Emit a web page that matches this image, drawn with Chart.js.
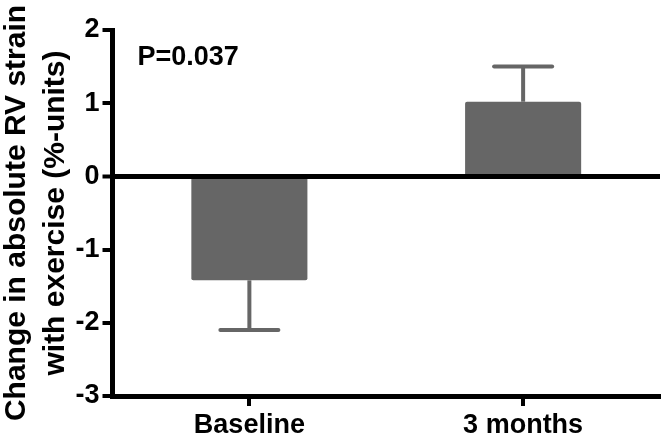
<!DOCTYPE html>
<html>
<head>
<meta charset="utf-8">
<script src="https://cdn.jsdelivr.net/npm/chart.js@4"></script>
<style>
  html, body { margin: 0; padding: 0; background: #fff; }
  #wrap { width: 666px; height: 440px; }
</style>
</head>
<body>
<div id="wrap"><canvas id="strainChart" width="666" height="440"></canvas></div>
<script>
const categories = ['Baseline', '3 months'];
const meanChange = [-1.42, 1.02];
const errorSize = [0.68, 0.48];
const yMin = -3;
const yMax = 2;
const pLabel = 'P=0.037';

const barGrey = '#666666';
const fontFamily = '"Liberation Sans", Arial, Helvetica, sans-serif';

// one-sided error bars, drawn away from zero like the original
const errorBars = {
    id: 'errorBars',
    afterDatasetsDraw(chart) {
        const ctx = chart.ctx;
        const meta = chart.getDatasetMeta(0);
        const y = chart.scales.y;
        ctx.save();
        ctx.strokeStyle = barGrey;
        ctx.lineWidth = 4;
        meta.data.forEach((bar, i) => {
            const v = meanChange[i];
            const end = v + Math.sign(v) * errorSize[i];
            const yBar = y.getPixelForValue(v);
            const yEnd = y.getPixelForValue(end);
            const half = bar.width / 4;
            ctx.lineCap = 'butt';
            ctx.beginPath();
            ctx.moveTo(bar.x, yBar);
            ctx.lineTo(bar.x, yEnd);
            ctx.stroke();
            ctx.lineCap = 'round';
            ctx.beginPath();
            ctx.moveTo(bar.x - half, yEnd);
            ctx.lineTo(bar.x + half, yEnd);
            ctx.stroke();
        });
        ctx.restore();
    }
};

// x ticks sit under the category centres, not between them
const centreTicks = {
    id: 'centreTicks',
    afterDraw(chart) {
        const ctx = chart.ctx;
        const x = chart.scales.x;
        ctx.save();
        ctx.strokeStyle = '#000';
        ctx.lineWidth = 4;
        x.ticks.forEach((t, i) => {
            const px = Math.round(x.getPixelForTick(i));
            ctx.beginPath();
            ctx.moveTo(px, x.top);
            ctx.lineTo(px, x.top + 10);
            ctx.stroke();
        });
        ctx.restore();
    }
};

const pValueText = {
    id: 'pValueText',
    afterDraw(chart) {
        const ctx = chart.ctx;
        ctx.save();
        ctx.font = 'bold 27px ' + fontFamily;
        ctx.fillStyle = '#000';
        ctx.textBaseline = 'middle';
        ctx.textAlign = 'left';
        ctx.fillText(pLabel, chart.chartArea.left + 25, chart.scales.y.getPixelForValue(1.63));
        ctx.restore();
    }
};

new Chart(document.getElementById('strainChart'), {
    type: 'bar',
    data: {
        labels: categories,
        datasets: [{
            data: meanChange,
            backgroundColor: barGrey,
            borderWidth: 0,
            borderRadius: 2,
            borderSkipped: 'start',
            barPercentage: 0.424,
            categoryPercentage: 1
        }]
    },
    options: {
        responsive: false,
        animation: false,
        layout: { padding: { top: 30, right: 6, bottom: 0, left: 0 } },
        plugins: {
            legend: { display: false },
            tooltip: { enabled: false }
        },
        scales: {
            x: {
                offset: true,
                border: { display: true, color: '#000', width: 5 },
                grid: { display: false },
                ticks: {
                    color: '#000',
                    padding: 5,
                    font: { family: fontFamily, size: 27, weight: 'bold' }
                },
                afterFit(scale) { scale.height = 44; }
            },
            y: {
                min: yMin,
                max: yMax,
                z: 1,
                border: { display: true, color: '#000', width: 5 },
                grid: {
                    color: c => (c.tick && c.tick.value === 0) ? '#000' : 'rgba(0,0,0,0)',
                    lineWidth: c => (c.tick && c.tick.value === 0) ? 5 : 0,
                    tickColor: '#000',
                    tickLength: 10,
                    tickWidth: 4
                },
                ticks: {
                    stepSize: 1,
                    color: '#000',
                    padding: 3,
                    font: { family: fontFamily, size: 27, weight: 'bold' }
                },
                title: {
                    display: true,
                    text: ['Change in absolute RV strain', 'with exercise (%-units)'],
                    color: '#000',
                    padding: { top: -3, bottom: 0 },
                    font: { family: fontFamily, size: 30, weight: 'bold', lineHeight: 1.3 }
                },
                afterFit(scale) { scale.width = 112.5; }
            }
        }
    },
    plugins: [errorBars, centreTicks, pValueText]
});
</script>
</body>
</html>
